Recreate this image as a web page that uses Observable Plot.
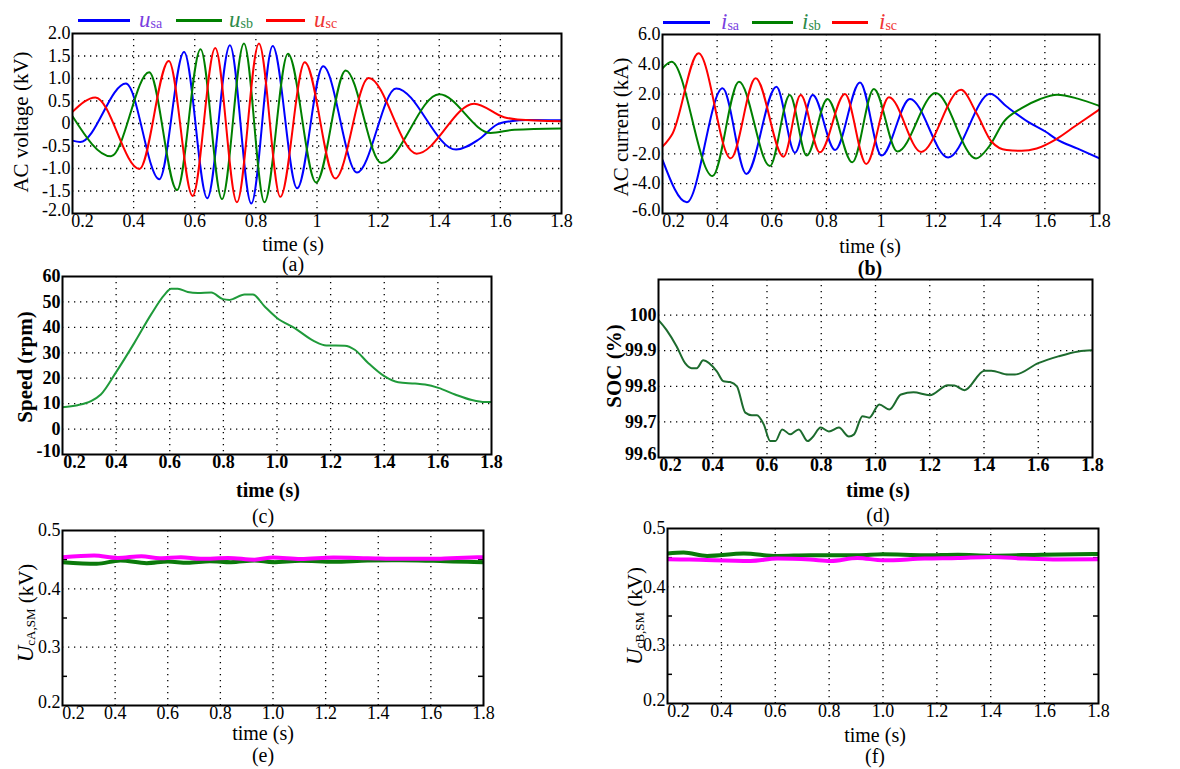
<!DOCTYPE html>
<html>
<head>
<meta charset="utf-8">
<script src="https://cdn.jsdelivr.net/npm/d3@7"></script>
<script src="https://cdn.jsdelivr.net/npm/@observablehq/plot@0.6"></script>
<style>
  html, body { margin: 0; padding: 0; background: #fff; }
  #root { position: relative; width: 1180px; height: 769px; overflow: hidden; font-family: "Liberation Serif", "Times New Roman", serif; color: #000; }
  .lbl { position: absolute; white-space: nowrap; transform: translate(-50%, -50%); font-size: 20px; line-height: 1; }
  .ylbl { position: absolute; white-space: nowrap; transform: translate(-50%, -50%) rotate(-90deg); font-size: 21px; line-height: 1; }
  .legline { position: absolute; height: 3px; }
  .legtxt { position: absolute; white-space: nowrap; transform: translateY(-50%); line-height: 1; }
  .legtxt i { font-size: 23px; }
  .legtxt sub { font-size: 14px; vertical-align: -1px; }
  .ylbl sub { font-size: 13px; vertical-align: -2px; }
</style>
</head>
<body>
<div id="root"></div>
<script>
// ---------------- DATA ----------------
const xTicks = [0.2, 0.4, 0.6, 0.8, 1.0, 1.2, 1.4, 1.6, 1.8];
const xLabelsAB = ["0.2", "0.4", "0.6", "0.8", "1", "1.2", "1.4", "1.6", "1.8"];
const xLabelsCF = ["0.2", "0.4", "0.6", "0.8", "1.0", "1.2", "1.4", "1.6", "1.8"];
const xGrid = [0.4, 0.6, 0.8, 1.0, 1.2, 1.4, 1.6];

const yTicksA = [2, 1.5, 1, 0.5, 0, -0.5, -1, -1.5, -2];
const yLabelsA = ["2.0", "1.5", "1.0", "0.5", "0", "-0.5", "-1.0", "-1.5", "-2.0"];
const yTicksB = [6, 4, 2, 0, -2, -4, -6];
const yLabelsB = ["6.0", "4.0", "2.0", "0", "-2.0", "-4.0", "-6.0"];
const yTicksC = [60, 50, 40, 30, 20, 10, 0, -10];
const yLabelsC = ["60", "50", "40", "30", "20", "10", "0", "-10"];
const yTicksD = [100, 99.9, 99.8, 99.7, 99.6];
const yLabelsD = ["100", "99.9", "99.8", "99.7", "99.6"];
const yTicksE = [0.5, 0.4, 0.3, 0.2];
const yLabelsE = ["0.5", "0.4", "0.3", "0.2"];
const yMinorE = [0.45, 0.35, 0.25];

// (a) AC voltage (kV)
const usaT = [0.2, 0.225, 0.375, 0.484, 0.565, 0.641, 0.715, 0.785, 0.855, 0.935, 1.02, 1.131, 1.259, 1.455, 1.53, 1.59, 1.634, 1.69, 1.8];
const usaV = [-0.38, -0.41, 0.89, -1.24, 1.59, -1.66, 1.74, -1.78, 1.72, -1.44, 1.27, -1.09, 0.78, -0.58, -0.35, -0.02, 0.05, 0.08, 0.07];
const usbT = [0.2, 0.326, 0.451, 0.542, 0.619, 0.689, 0.761, 0.828, 0.905, 0.997, 1.094, 1.211, 1.40, 1.568, 1.646, 1.8];
const usbV = [0.16, -0.73, 1.14, -1.48, 1.65, -1.68, 1.78, -1.75, 1.55, -1.31, 1.18, -0.88, 0.65, -0.21, -0.14, -0.11];
const uscT = [0.2, 0.275, 0.419, 0.515, 0.593, 0.667, 0.738, 0.81, 0.88, 0.96, 1.06, 1.169, 1.326, 1.514, 1.612, 1.656, 1.8];
const uscV = [0.26, 0.58, -1.01, 1.39, -1.61, 1.68, -1.75, 1.78, -1.63, 1.36, -1.22, 1.01, -0.67, 0.44, 0.14, 0.09, 0.05];

// (b) AC current (kA)
const isaT = [0.2, 0.289, 0.42, 0.507, 0.617, 0.685, 0.75, 0.832, 0.923, 1.002, 1.106, 1.246, 1.4, 1.46, 1.537, 1.603, 1.642, 1.72, 1.8];
const isaV = [-2.41, -5.25, 2.39, -3.35, 2.50, -1.92, 1.94, -1.74, 2.79, -2.12, 1.68, -2.25, 2.02, 1.17, 0.16, -0.52, -1.01, -1.65, -2.3];
const isbT = [0.2, 0.233, 0.383, 0.48, 0.593, 0.666, 0.728, 0.804, 0.895, 0.974, 1.06, 1.2, 1.348, 1.395, 1.45, 1.515, 1.581, 1.645, 1.72, 1.8];
const isbV = [3.73, 4.18, -3.49, 2.84, -2.82, 1.94, -2.12, 1.68, -2.57, 2.35, -1.85, 2.07, -2.31, -1.53, 0.16, 1.06, 1.66, 1.96, 1.7, 1.21];
const iscT = [0.2, 0.237, 0.332, 0.45, 0.541, 0.643, 0.706, 0.776, 0.868, 0.946, 1.029, 1.147, 1.293, 1.35, 1.405, 1.46, 1.515, 1.57, 1.642, 1.71, 1.8];
const iscV = [-1.52, -0.63, 4.74, -2.30, 3.06, -2.19, 1.94, -1.90, 2.01, -2.68, 1.79, -1.87, 2.29, 0.72, -1.19, -1.75, -1.80, -1.64, -1.01, -0.15, 0.98];

// (c) Speed (rpm)
const speedT = [0.2, 0.256, 0.306, 0.343, 0.4, 0.468, 0.53, 0.58, 0.605, 0.63, 0.667, 0.705, 0.755, 0.798, 0.823, 0.879, 0.91, 0.954, 1.0, 1.066, 1.14, 1.184, 1.253, 1.29, 1.34, 1.4, 1.452, 1.515, 1.552, 1.602, 1.664, 1.727, 1.776, 1.8];
const speedV = [8.6, 9.4, 11.0, 13.6, 22.4, 33.9, 45.0, 52.8, 55.2, 55.2, 53.9, 53.5, 53.7, 51.1, 50.8, 52.9, 52.9, 48.2, 43.7, 39.7, 34.5, 32.9, 32.8, 31.2, 26.0, 20.8, 18.4, 17.9, 17.5, 16.2, 13.6, 11.4, 10.6, 10.6];

// (d) SOC (%)
const socT = [0.2, 0.23, 0.267, 0.298, 0.322, 0.341, 0.365, 0.415, 0.44, 0.464, 0.489, 0.52, 0.544, 0.563, 0.588, 0.612, 0.631, 0.656, 0.686, 0.717, 0.75, 0.767, 0.798, 0.828, 0.865, 0.902, 0.921, 0.952, 0.977, 1.014, 1.051, 1.094, 1.14, 1.2, 1.267, 1.291, 1.328, 1.402, 1.427, 1.489, 1.514, 1.6, 1.674, 1.748, 1.8];
const socV = [99.986, 99.958, 99.912, 99.865, 99.851, 99.851, 99.873, 99.842, 99.814, 99.812, 99.80, 99.726, 99.719, 99.719, 99.693, 99.646, 99.646, 99.679, 99.665, 99.679, 99.646, 99.656, 99.684, 99.673, 99.684, 99.659, 99.665, 99.716, 99.712, 99.749, 99.735, 99.777, 99.783, 99.775, 99.803, 99.802, 99.789, 99.844, 99.844, 99.833, 99.833, 99.865, 99.884, 99.898, 99.901];

// (e) U_cA,SM (kV)
const ucaMagT = [0.2, 0.32, 0.41, 0.5, 0.57, 0.65, 0.725, 0.83, 0.93, 1.0, 1.105, 1.23, 1.36, 1.485, 1.61, 1.675, 1.8];
const ucaMagV = [0.4543, 0.457, 0.453, 0.456, 0.4526, 0.4543, 0.4514, 0.453, 0.450, 0.4537, 0.451, 0.4537, 0.4526, 0.4514, 0.4514, 0.4526, 0.4543];
const ucaGrnT = [0.2, 0.33, 0.42, 0.52, 0.6, 0.675, 0.76, 0.84, 0.93, 1.0, 1.105, 1.23, 1.36, 1.485, 1.61, 1.74, 1.8];
const ucaGrnV = [0.4457, 0.443, 0.4486, 0.444, 0.4469, 0.4446, 0.4474, 0.4457, 0.4486, 0.4457, 0.448, 0.4463, 0.4486, 0.4491, 0.448, 0.4463, 0.4457];

// (f) U_cB,SM (kV)
const ucbGrnT = [0.2, 0.26, 0.347, 0.483, 0.607, 0.73, 0.905, 1.0, 1.154, 1.278, 1.402, 1.588, 1.8];
const ucbGrnV = [0.457, 0.4587, 0.453, 0.457, 0.453, 0.4541, 0.4541, 0.4558, 0.4541, 0.4552, 0.4535, 0.4552, 0.4564];
const ucbMagT = [0.2, 0.28, 0.508, 0.607, 0.73, 0.806, 0.905, 1.0, 1.154, 1.278, 1.402, 1.526, 1.65, 1.8];
const ucbMagV = [0.4472, 0.4467, 0.4444, 0.4484, 0.4467, 0.4444, 0.4495, 0.4455, 0.4484, 0.4495, 0.4512, 0.4484, 0.4467, 0.4472];

// ---------------- DRAWING ----------------
const root = document.getElementById("root");
const rows = (ts, vs) => ts.map((t, i) => ({t, v: vs[i]}));
const dotted = {stroke: "#000", strokeOpacity: 1, strokeWidth: 1.3, strokeDasharray: "1.3,4.7"};

function panel(cfg) {
  const mL = 50, mR = 14, mT = 6, mB = 26;
  const fw = cfg.fr - cfg.fl;
  const w = fw + mL + mR, h = cfg.fb - cfg.ft + mT + mB;
  const fx = new Map(xTicks.map((d, i) => [d, cfg.xLabels[i]]));
  const fy = new Map(cfg.yTicks.map((d, i) => [d, cfg.yLabels[i]]));
  const marks = [
    Plot.gridX(xGrid, dotted),
    Plot.gridY(cfg.yGrid, dotted),
  ];
  if (cfg.minor) {
    marks.push(Plot.tickY(cfg.minor, {stroke: "#000", strokeWidth: 1.5, insetRight: fw - 5}));
    marks.push(Plot.tickY(cfg.minor, {stroke: "#000", strokeWidth: 1.5, insetLeft: fw - 5}));
  }
  for (const s of cfg.series) {
    marks.push(Plot.line(s.data, {x: "t", y: "v", stroke: s.color, strokeWidth: s.width, curve: "monotone-x", clip: true}));
  }
  marks.push(Plot.frame({stroke: "#000", strokeWidth: 2}));
  const ax = {tickFormat: d => fx.get(d), tickSize: 0, tickPadding: 1, label: null};
  const ay = {tickFormat: d => fy.get(d), tickSize: 0, tickPadding: 2, label: null};
  marks.push(Plot.axisX(xTicks.slice(1), ax));
  marks.push(Plot.axisX(xTicks.slice(0, 1), {...ax, dx: cfg.firstDx}));
  marks.push(Plot.axisY(cfg.yTicks.slice(0, -1), ay));
  marks.push(Plot.axisY(cfg.yTicks.slice(-1), {...ay, dy: -3}));
  const svg = Plot.plot({
    width: w, height: h,
    marginLeft: mL, marginRight: mR, marginTop: mT, marginBottom: mB,
    x: {domain: [0.2, 1.8], label: null},
    y: {domain: cfg.yDomain, label: null},
    style: {fontFamily: '"Liberation Serif", serif', fontSize: "18px", fontWeight: cfg.bold ? "bold" : "normal", color: "#000", background: "transparent", overflow: "visible"},
    marks
  });
  svg.style.position = "absolute";
  svg.style.left = (cfg.fl - mL) + "px";
  svg.style.top = (cfg.ft - mT) + "px";
  root.appendChild(svg);
}

const BLUE = "#0000ff", GREEN = "#008000", RED = "#ff0000", MAG = "#ff00ff";

panel({fl: 72, fr: 561, ft: 33, fb: 213, yDomain: [-2, 2], yTicks: yTicksA, yLabels: yLabelsA, xLabels: xLabelsAB,
  yGrid: [1.5, 1, 0.5, 0, -0.5, -1, -1.5], firstDx: 10,
  series: [
    {data: rows(usaT, usaV), color: BLUE, width: 2},
    {data: rows(usbT, usbV), color: GREEN, width: 2},
    {data: rows(uscT, uscV), color: RED, width: 2}
  ]});
panel({fl: 662, fr: 1099, ft: 34, fb: 213, yDomain: [-6, 6], yTicks: yTicksB, yLabels: yLabelsB, xLabels: xLabelsAB,
  yGrid: [4, 2, 0, -2, -4], firstDx: 11,
  series: [
    {data: rows(isaT, isaV), color: BLUE, width: 2},
    {data: rows(isbT, isbV), color: GREEN, width: 2},
    {data: rows(iscT, iscV), color: RED, width: 2}
  ]});
panel({fl: 62, fr: 491, ft: 276, fb: 454, yDomain: [-10, 60], yTicks: yTicksC, yLabels: yLabelsC, xLabels: xLabelsCF,
  yGrid: [50, 40, 30, 20, 10, 0], bold: true, firstDx: 12,
  series: [{data: rows(speedT, speedV), color: "#1f9a3a", width: 2}]});
panel({fl: 658, fr: 1092, ft: 279, fb: 457, yDomain: [99.6, 100.1], yTicks: yTicksD, yLabels: yLabelsD, xLabels: xLabelsCF,
  yGrid: [100, 99.9, 99.8, 99.7], bold: true, firstDx: 12,
  series: [{data: rows(socT, socV), color: "#1d6b2e", width: 2}]});
panel({fl: 62, fr: 483, ft: 530, fb: 705, yDomain: [0.2, 0.5], yTicks: yTicksE, yLabels: yLabelsE, xLabels: xLabelsCF,
  yGrid: [0.4, 0.3], minor: yMinorE, firstDx: 11,
  series: [
    {data: rows(ucaGrnT, ucaGrnV), color: "#0b7a0b", width: 4},
    {data: rows(ucaMagT, ucaMagV), color: MAG, width: 4}
  ]});
panel({fl: 667, fr: 1098, ft: 528, fb: 703, yDomain: [0.2, 0.5], yTicks: yTicksE, yLabels: yLabelsE, xLabels: xLabelsCF,
  yGrid: [0.4, 0.3], minor: yMinorE, firstDx: 11,
  series: [
    {data: rows(ucbGrnT, ucbGrnV), color: "#0b7a0b", width: 4},
    {data: rows(ucbMagT, ucbMagV), color: MAG, width: 4}
  ]});

// ---------------- TEXT ----------------
function addText(cls, html, x, y, extra) {
  const d = document.createElement("div");
  d.className = cls;
  d.innerHTML = html;
  d.style.left = x + "px";
  d.style.top = y + "px";
  if (extra) Object.assign(d.style, extra);
  root.appendChild(d);
}
// x-axis titles and captions
addText("lbl", "time (s)", 293, 244);
addText("lbl", "(a)", 293, 264);
addText("lbl", "time (s)", 870, 246);
addText("lbl", "(b)", 870, 268, {fontWeight: "bold"});
addText("lbl", "time (s)", 268, 490, {fontWeight: "bold"});
addText("lbl", "(c)", 263, 516);
addText("lbl", "time (s)", 878, 490, {fontWeight: "bold"});
addText("lbl", "(d)", 878, 515);
addText("lbl", "time (s)", 263, 733);
addText("lbl", "(e)", 263, 755);
addText("lbl", "time (s)", 875, 735);
addText("lbl", "(f)", 875, 756);
// y-axis titles
addText("ylbl", "AC voltage (kV)", 21, 122);
addText("ylbl", "AC current (kA)", 621, 127);
addText("ylbl", "Speed (rpm)", 25, 367, {fontWeight: "bold"});
addText("ylbl", "SOC (%)", 614, 366, {fontWeight: "bold"});
addText("ylbl", "<i style='font-size:23px'>U</i><sub>cA,SM</sub> (kV)", 25, 613);
addText("ylbl", "<i style='font-size:23px'>U</i><sub>cB,SM</sub> (kV)", 634, 616);

// legends
function legLine(x0, x1, y, color) {
  const d = document.createElement("div");
  d.className = "legline";
  Object.assign(d.style, {left: x0 + "px", width: (x1 - x0) + "px", top: (y - 1.5) + "px", background: color});
  root.appendChild(d);
}
const legA = [["u", "sa"], ["u", "sb"], ["u", "sc"]];
const legB = [["i", "sa"], ["i", "sb"], ["i", "sc"]];
const legLineCol = [BLUE, GREEN, RED];
const legTextCol = ["#7a3fe0", "#2e8b4a", "#f03434"];
const posA = [[78, 130, 139], [176, 222, 229], [266, 305, 314]];
const posB = [[663, 710, 721], [752, 793, 802], [832, 868, 879]];
legA.forEach((l, i) => {
  legLine(posA[i][0], posA[i][1], 20, legLineCol[i]);
  addText("legtxt", `<i>${l[0]}</i><sub>${l[1]}</sub>`, posA[i][2], 19, {color: legTextCol[i]});
});
legB.forEach((l, i) => {
  legLine(posB[i][0], posB[i][1], 22, legLineCol[i]);
  addText("legtxt", `<i>${l[0]}</i><sub>${l[1]}</sub>`, posB[i][2], 21, {color: legTextCol[i]});
});
</script>
</body>
</html>
